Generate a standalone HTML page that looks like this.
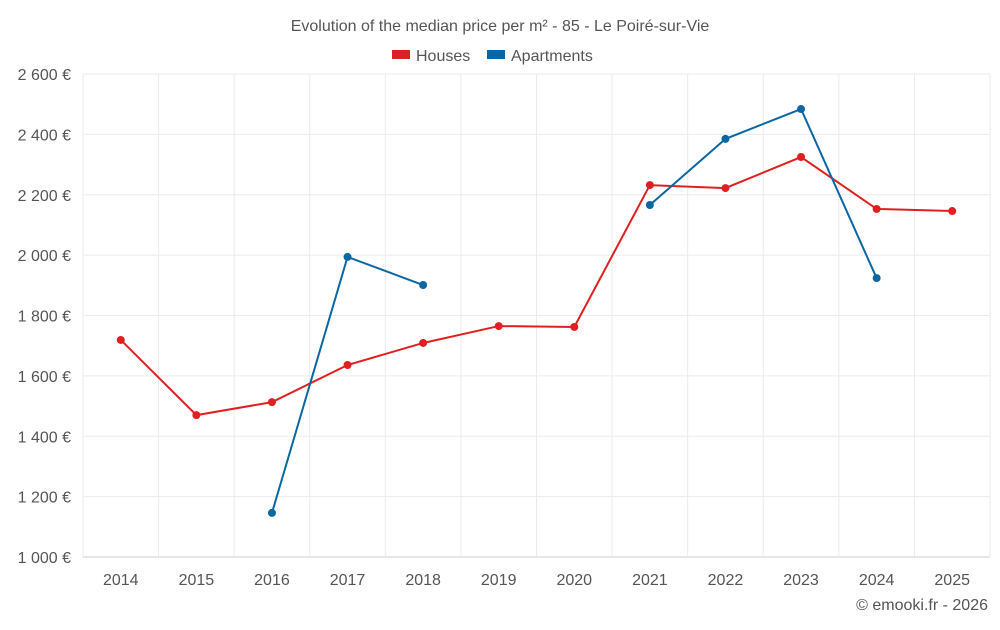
<!DOCTYPE html>
<html><head><meta charset="utf-8"><style>
body{margin:0;background:#fff;font-family:"Liberation Sans",sans-serif;}
svg text{font-family:"Liberation Sans",sans-serif;fill:#555;}
</style></head><body>
<svg width="1000" height="625">
<text x="500" y="31" text-anchor="middle" font-size="16">Evolution of the median price per m² - 85 - Le Poiré-sur-Vie</text>
<g>
<g><rect x="392" y="50" width="18" height="9" fill="#e02020"/><text x="416" y="61" font-size="16">Houses</text></g>
<g><rect x="487" y="50" width="18" height="9" fill="#0a67a3"/><text x="511" y="61" font-size="16">Apartments</text></g>
</g>
<g id="grid"></g><g id="axes"></g><g id="series"></g>
<text x="988" y="610" text-anchor="end" font-size="16">© emooki.fr - 2026</text>
</svg>
<script>
const years=["2014","2015","2016","2017","2018","2019","2020","2021","2022","2023","2024","2025"];
const houses=[1719,1470,1513,1636,1709,1765,1762,2232,2222,2325,2153,2146];
const apartments=[null,null,1146,1994,1901,null,null,2166,2385,2484,1924,null];
const yTicks=[1000,1200,1400,1600,1800,2000,2200,2400,2600];
const L=83,R=990,T=74,B=557,yMin=1000,yMax=2600;
const step=(R-L)/years.length;
const xS=i=>L+step*(i+0.5);
const yS=v=>B-(v-yMin)/(yMax-yMin)*(B-T);
const NS="http://www.w3.org/2000/svg";
function mk(tag,attrs,parent){const e=document.createElementNS(NS,tag);for(const k in attrs)e.setAttribute(k,attrs[k]);parent.appendChild(e);return e;}
const grid=document.getElementById('grid'),axes=document.getElementById('axes'),series=document.getElementById('series');
const fmt=v=>String(v).replace(/\B(?=(\d{3})+(?!\d))/g," ")+" €";
yTicks.forEach(v=>{
 const l=mk('line',{x1:L,x2:R,y1:yS(v),y2:yS(v),stroke:v===yMin?'#ccc':'#ebebeb'},grid);
 
 
 const t=mk('text',{x:L-12,y:yS(v)+6,'text-anchor':'end','font-size':16},axes);
 t.textContent=fmt(v);
 
 
});
for(let i=0;i<=years.length;i++){
 const l=mk('line',{x1:L+step*i,x2:L+step*i,y1:T,y2:B+(i===0?0:0),stroke:'#ebebeb'},grid);
 
 
}
years.forEach((y,i)=>{
 const t=mk('text',{x:xS(i),y:B+28,'text-anchor':'middle','font-size':16},axes);
 t.textContent=y;
 
 
});
function draw(data,color,name){
 let segs=[],cur=[];
 data.forEach((v,i)=>{if(v==null){if(cur.length)segs.push(cur);cur=[];}else cur.push([xS(i),yS(v)]);});
 if(cur.length)segs.push(cur);
 segs.forEach(s=>{
  const p=mk('polyline',{points:s.map(q=>q.join(',')).join(' '),fill:'none',stroke:color,'stroke-width':2},series);
  
  
 });
 data.forEach((v,i)=>{if(v==null)return;
  const c=mk('circle',{cx:xS(i),cy:yS(v),r:4,fill:color},series);
  
  
 });
}
draw(houses,'#e02020','houses');
draw(apartments,'#0a67a3','apartments');
</script>
</body></html>
